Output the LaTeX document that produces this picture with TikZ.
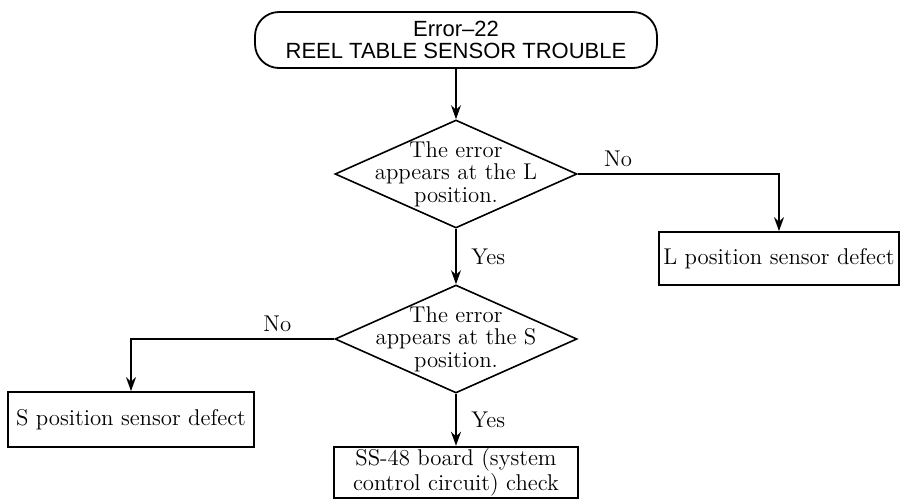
\documentclass[tikz,border=0pt]{standalone}
\usepackage{fontspec}
\newfontfamily\headfont{Liberation Sans}
\usetikzlibrary{arrows.meta,shapes.geometric}

\tikzset{
  terminal/.style={draw, rounded corners=12pt, line width=0.9pt,
    minimum width=201pt, minimum height=28pt, inner sep=0pt, align=center,
    font=\headfont\fontsize{11}{11.2}\selectfont},
  decision/.style={draw, diamond, line width=0.8pt, inner sep=0pt,
    minimum width=121pt, minimum height=54pt},
  result/.style={draw, rectangle, line width=0.9pt, inner sep=1pt, align=center},
  arr/.style={-{Stealth[length=7pt,width=5pt]}, line width=0.8pt},
}

\begin{document}
\begin{tikzpicture}[x=0.5pt, y=-0.5pt, font=\fontsize{11.4}{11.2}\selectfont]
  \useasboundingbox (0,0) rectangle (902,500);
  % nodes
  \node[terminal] (start) at (456,40) {Error\textendash22\\REEL TABLE SENSOR TROUBLE};
  \node[decision, label={[align=center]center:The error\\appears at the L\\position.}] (askL) at (456,174) {};
  \node[decision, label={[align=center]center:The error\\appears at the S\\position.}] (askS) at (456,339) {};
  \node[result, minimum width=120pt, minimum height=26.5pt] (Ldefect) at (779,258.5) {L position sensor defect};
  \node[result, minimum width=123pt, minimum height=27.5pt] (Sdefect) at (131,419.5) {S position sensor defect};
  \node[result, minimum width=122pt, minimum height=25.5pt] (board) at (456,472.5) {SS-48 board (system\\control circuit) check};
  % connectors
  \draw[arr] (start) -- (askL);
  \draw[arr] (askL.east) -| node[pos=0.1, above] {No} (Ldefect.north);
  \draw[arr] (askL) -- node[right, xshift=4pt] {Yes} (askS);
  \draw[arr] (askS.west) -| node[pos=0.14, above] {No} (Sdefect.north);
  \draw[arr] (askS) -- node[right, xshift=4pt] {Yes} (board);
\end{tikzpicture}
\end{document}
